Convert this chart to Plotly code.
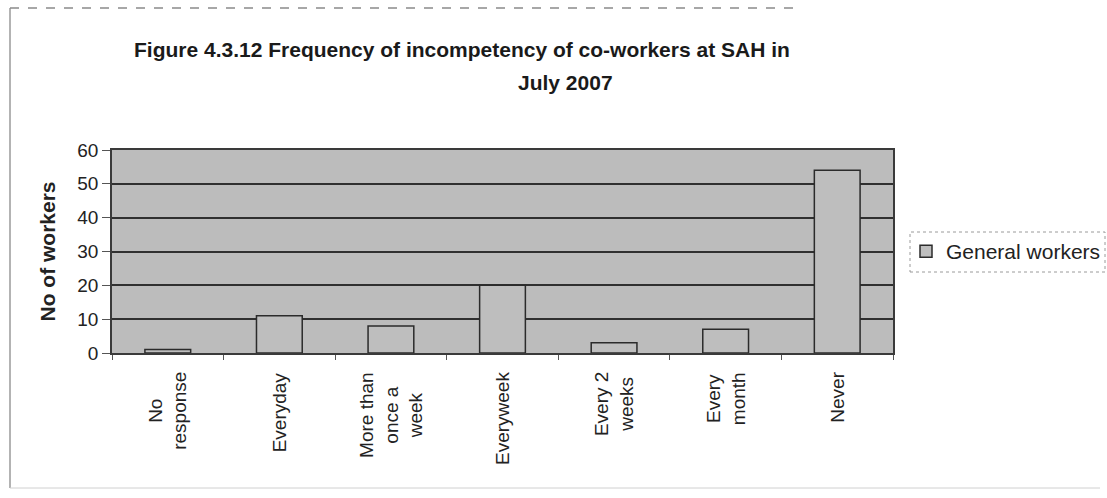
import plotly.graph_objects as go

# Survey responses: how often co-workers were seen as incompetent
categories = ["No response", "Everyday", "More than once a week", "Everyweek",
              "Every 2 weeks", "Every month", "Never"]
category_labels = ["No<br>response", "Everyday", "More than<br>once a<br>week", "Everyweek",
                   "Every 2<br>weeks", "Every<br>month", "Never"]
general_workers = [1, 11, 8, 20, 3, 7, 54]
y_ticks = [0, 10, 20, 30, 40, 50, 60]

FONT = "Liberation Sans, Arial, sans-serif"

# Plot-area geometry in pixels (used to place paper-relative decorations)
L, R, T, B = 112, 893, 150, 353
W, H = R - L, B - T


def px_x(x):
    return (x - L) / W


def px_y(y):
    return (B - y) / H


fig = go.Figure()
fig.add_trace(go.Bar(
    x=categories,
    y=general_workers,
    name="General workers",
    marker=dict(color="#bebebe", line=dict(color="#2b2b2b", width=1.5)),
))

# Category labels, rotated and centred line by line below the axis
for cat, lab in zip(categories, category_labels):
    fig.add_annotation(
        x=cat, y=0, xref="x", yref="paper", text=lab, showarrow=False,
        textangle=-90, xanchor="center", yanchor="top", yshift=-17,
        align="center", font=dict(family=FONT, size=19, color="#222"),
    )

# Two-line chart title
title_lines = [("Figure 4.3.12 Frequency of incompetency of co-workers at SAH in", 462, 50),
               ("July 2007", 565, 82)]
for txt, cx, cy in title_lines:
    fig.add_annotation(
        x=px_x(cx), y=px_y(cy), xref="paper", yref="paper",
        text="<b>%s</b>" % txt, showarrow=False,
        xanchor="center", yanchor="middle",
        font=dict(family=FONT, size=21, color="#1a1a1a"),
    )

# Outer chart frame
fig.add_shape(type="line", xref="paper", yref="paper",
              x0=px_x(10), x1=px_x(10), y0=px_y(488), y1=px_y(8),
              line=dict(color="#9a9a9a", width=1.5))
fig.add_shape(type="line", xref="paper", yref="paper",
              x0=px_x(10), x1=px_x(800), y0=px_y(8), y1=px_y(8),
              line=dict(color="#8a8a8a", width=1.5, dash="dash"))
fig.add_shape(type="line", xref="paper", yref="paper",
              x0=px_x(10), x1=px_x(1100), y0=px_y(488), y1=px_y(488),
              line=dict(color="#d0d0d0", width=1))

# Dotted legend frame
fig.add_shape(type="rect", xref="paper", yref="paper",
              x0=px_x(910), x1=px_x(1105), y0=px_y(272), y1=px_y(232),
              line=dict(color="#9a9a9a", width=1, dash="dot"))

fig.update_layout(
    width=1107, height=498,
    margin=dict(l=L, r=1107 - R, t=T, b=498 - B, autoexpand=False),
    paper_bgcolor="white",
    plot_bgcolor="#bcbcbc",
    bargap=0.59,
    showlegend=True,
    legend=dict(x=px_x(906), y=px_y(231), xanchor="left", yanchor="top",
                font=dict(family=FONT, size=21, color="#222"),
                bgcolor="rgba(0,0,0,0)", borderwidth=0,
                itemwidth=30, tracegroupgap=0),
    font=dict(family=FONT, color="#222"),
)

fig.update_xaxes(
    showticklabels=False, showgrid=False, showline=True,
    linecolor="#3a3a3a", linewidth=1.5, mirror=True,
    ticks="outside", tickson="boundaries", ticklen=5, tickcolor="#555",
)
fig.update_yaxes(
    range=[0, 60], tickvals=y_ticks, ticktext=[str(v) for v in y_ticks],
    showgrid=True, gridcolor="#303030", gridwidth=1.5,
    showline=True, linecolor="#3a3a3a", linewidth=1.5, mirror=True,
    ticks="outside", ticklen=8, tickcolor="#555",
    tickfont=dict(family=FONT, size=19, color="#222"),
    title=dict(text="<b>No of workers</b>", font=dict(family=FONT, size=21, color="#222"),
               standoff=16),
    zeroline=False,
)

fig.write_html("out.html")
